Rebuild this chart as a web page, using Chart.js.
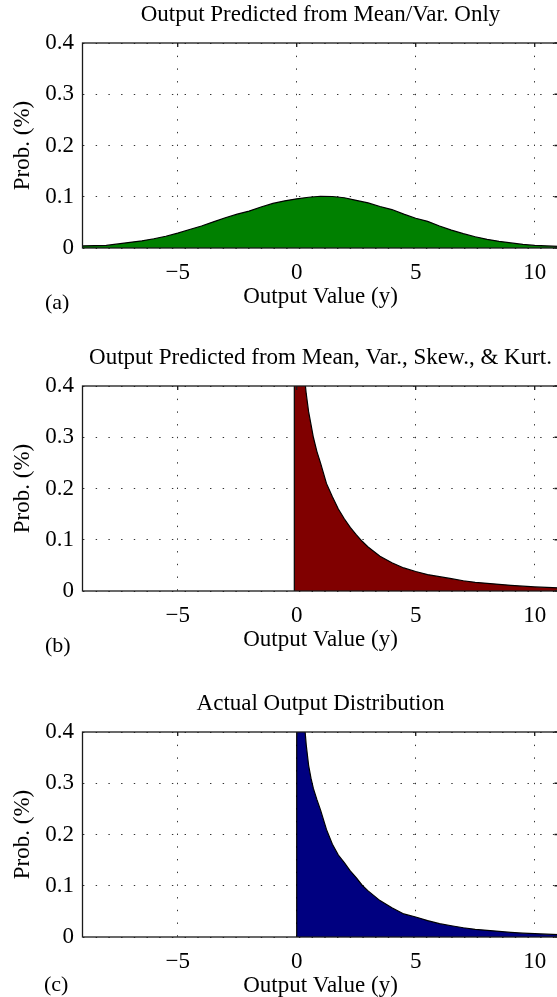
<!DOCTYPE html>
<html>
<head>
<meta charset="utf-8">
<script src="https://cdn.jsdelivr.net/npm/chart.js@4.4.1/dist/chart.umd.min.js"></script>
<style>
  body { margin: 0; background: #fff; width: 557px; height: 997px; overflow: hidden; position: relative; }
  canvas { position: absolute; left: 0; }
  .lbl { position: absolute; font: 22px "Liberation Serif", serif; color: #000; line-height: 26px; }
</style>
</head>
<body>
<canvas id="chartA" width="560" height="311" style="top:0px"></canvas>
<canvas id="chartB" width="560" height="311" style="top:343px"></canvas>
<canvas id="chartC" width="560" height="311" style="top:689px"></canvas>
<div class="lbl" style="left:45px;top:289px">(a)</div>
<div class="lbl" style="left:45px;top:632px">(b)</div>
<div class="lbl" style="left:44px;top:971px">(c)</div>
<script>
// tick labels shared by all three panels
var xTicks = [-5, 0, 5, 10];
var yTicks = [0, 0.1, 0.2, 0.3, 0.4];

// (a) predicted from mean / variance only
var aX = [-9, -8.5, -8, -7.5, -7, -6.5, -6, -5.5, -5, -4.5, -4, -3.5, -3, -2.5, -2, -1.5, -1, -0.5,
          0, 0.5, 1, 1.5, 2, 2.5, 3, 3.5, 4, 4.5, 5, 5.5, 6, 6.5, 7, 7.5, 8, 8.5, 9, 9.5, 10, 10.5, 11];
var aY = [0.004, 0.0045, 0.005, 0.008, 0.011, 0.014, 0.018, 0.023, 0.029, 0.036, 0.043, 0.051, 0.059, 0.066, 0.072, 0.080, 0.087, 0.092,
          0.096, 0.099, 0.101, 0.1005, 0.098, 0.093, 0.088, 0.081, 0.075, 0.066, 0.058, 0.052, 0.043, 0.035, 0.028, 0.022, 0.017, 0.013, 0.010, 0.007, 0.005, 0.004, 0.003];

// (b) predicted from mean, var., skew., kurt.
var bX = [-0.1, -0.1, 0.1, 0.2, 0.3, 0.4, 0.5, 0.6, 0.7, 0.85, 1, 1.25, 1.5, 1.75, 2, 2.25, 2.5, 2.75, 3,
          3.5, 4, 4.5, 5, 5.5, 6, 6.5, 7, 7.5, 8, 8.5, 9, 9.5, 10, 10.5, 11];
var bY = [0, 0.9, 0.62, 0.5, 0.43, 0.385, 0.35, 0.325, 0.30, 0.272, 0.25, 0.21, 0.184, 0.16, 0.141, 0.124, 0.110, 0.097, 0.086,
          0.068, 0.055, 0.045, 0.038, 0.032, 0.028, 0.024, 0.020, 0.017, 0.015, 0.013, 0.011, 0.0095, 0.008, 0.007, 0.006];

// (c) actual output distribution
var cX = [0, 0, 0.1, 0.2, 0.3, 0.4, 0.5, 0.6, 0.7, 0.85, 1, 1.25, 1.5, 1.75, 2, 2.25, 2.5, 2.75, 3,
          3.5, 4, 4.5, 5, 5.5, 6, 6.5, 7, 7.5, 8, 8.5, 9, 9.5, 10, 10.5, 11];
var cY = [0, 0.9, 0.62, 0.5, 0.43, 0.375, 0.335, 0.31, 0.29, 0.268, 0.248, 0.21, 0.181, 0.16, 0.145, 0.129, 0.116, 0.101, 0.090,
          0.071, 0.057, 0.045, 0.039, 0.032, 0.026, 0.022, 0.018, 0.015, 0.013, 0.011, 0.009, 0.0075, 0.0065, 0.0055, 0.0045];

var serif = 'Liberation Serif';
var fontSize = 23;

// matlab style box with inward ticks, drawn over the filled area
var boxPlugin = {
	id: 'box',
	afterDatasetsDraw: function(chart) {
		var ctx = chart.ctx, a = chart.chartArea;
		var sx = chart.scales.x, sy = chart.scales.y;
		ctx.save();
		ctx.strokeStyle = '#1a1a1a';
		ctx.lineWidth = 1.3;
		ctx.beginPath();
		xTicks.forEach(function(v) {
			var px = sx.getPixelForValue(v);
			ctx.moveTo(px, a.top); ctx.lineTo(px, a.top + 4);
		});
		yTicks.forEach(function(v) {
			var py = sy.getPixelForValue(v);
			ctx.moveTo(a.right, py); ctx.lineTo(a.right - 4, py);
		});
		ctx.stroke();
		ctx.strokeRect(a.left, a.top, a.right - a.left, a.bottom - a.top);
		ctx.restore();
	}
};

function zip(xs, ys) {
	return xs.map(function(x, i) { return {x: x, y: ys[i]}; });
}

function makeChart(id, xs, ys, color, title) {
	return new Chart(document.getElementById(id), {
		type: 'line',
		data: {
			datasets: [{
				data: zip(xs, ys),
				backgroundColor: color,
				borderColor: '#000',
				borderWidth: 1.2,
				pointRadius: 0,
				fill: 'origin',
				tension: 0
			}]
		},
		options: {
			responsive: false,
			animation: false,
			devicePixelRatio: 1,
			layout: { padding: { left: 0, right: 1.5, top: 0, bottom: 0 } },
			plugins: {
				legend: { display: false },
				tooltip: { enabled: false },
				title: {
					display: true,
					text: title,
					fullSize: false,
					color: '#000',
					font: { family: serif, size: fontSize, weight: 'normal' },
					padding: { top: 1.2, bottom: 14.2 }
				}
			},
			scales: {
				x: {
					type: 'linear',
					min: -9,
					max: 11,
					afterBuildTicks: function(scale) {
						scale.ticks = xTicks.map(function(v) { return {value: v}; });
					},
					afterFit: function(scale) { scale.height = 63; },
					grid: { color: '#333', lineWidth: 1, drawTicks: false },
					border: { display: false, dash: [1.4, 11.3] },
					ticks: {
						color: '#000',
						padding: 10.8,
						maxRotation: 0,
						font: { family: serif, size: fontSize },
						callback: function(v) { return v < 0 ? '\u2212' + Math.abs(v) : String(v); }
					},
					title: {
						display: true,
						text: 'Output Value (y)',
						color: '#000',
						font: { family: serif, size: fontSize },
						padding: { top: 0, bottom: 0.2 }
					}
				},
				y: {
					min: 0,
					max: 0.4,
					afterBuildTicks: function(scale) {
						scale.ticks = yTicks.map(function(v) { return {value: v}; });
					},
					afterFit: function(scale) { scale.width = 82.5; },
					grid: { color: '#333', lineWidth: 1, drawTicks: false },
					border: { display: false, dash: [1.4, 11.3] },
					ticks: {
						color: '#000',
						padding: 8.5,
						font: { family: serif, size: fontSize },
						callback: function(v) { return v === 0 ? '0' : v.toFixed(1); }
					},
					title: {
						display: true,
						text: 'Prob. (%)',
						color: '#000',
						font: { family: serif, size: fontSize },
						padding: { top: 9.2, bottom: 0 }
					}
				}
			}
		},
		plugins: [boxPlugin]
	});
}

makeChart('chartA', aX, aY, 'rgb(0,128,0)', 'Output Predicted from Mean/Var. Only');
makeChart('chartB', bX, bY, 'rgb(128,0,0)', 'Output Predicted from Mean, Var., Skew., & Kurt.');
makeChart('chartC', cX, cY, 'rgb(0,0,128)', 'Actual Output Distribution');
</script>
</body>
</html>
